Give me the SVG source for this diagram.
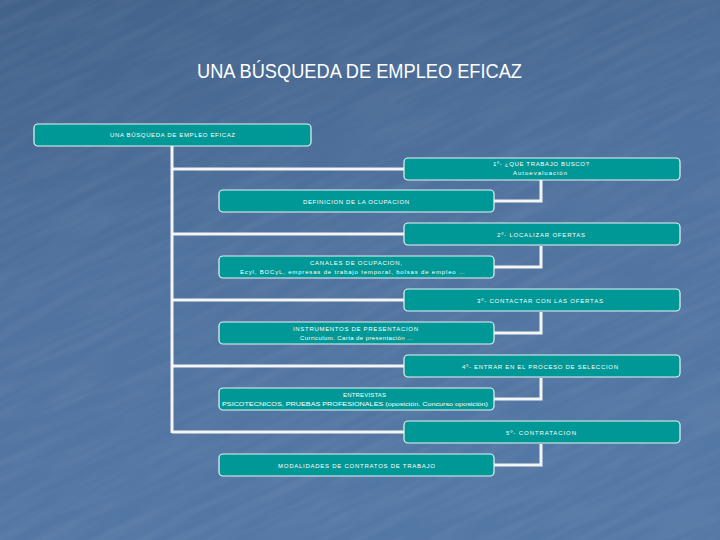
<svg xmlns="http://www.w3.org/2000/svg" width="720" height="540" viewBox="0 0 720 540">
<defs>
<linearGradient id="bg" x1="0" y1="0" x2="0.3" y2="1">
<stop offset="0" stop-color="#43628a"/>
<stop offset="0.5" stop-color="#4f729e"/>
<stop offset="1" stop-color="#5478a5"/>
</linearGradient>
<filter id="tex" x="0" y="0" width="100%" height="100%">
<feTurbulence type="fractalNoise" baseFrequency="0.012 0.12" numOctaves="3" seed="4" result="n"/>
<feColorMatrix in="n" type="matrix" values="0 0 0 0 1  0 0 0 0 1  0 0 0 0 1  0 0 0 0.35 -0.12"/>
</filter>
<style>
.box{fill:#009896;stroke:#e8f4f4;stroke-width:1.2}
.conn{fill:none;stroke:#f4f4f4;stroke-width:3}
.t{font-family:"Liberation Sans",Arial,sans-serif;font-size:6px;fill:#ffffff;text-anchor:middle}
.s{font-size:5.6px}
.title{font-family:"Liberation Sans",Arial,sans-serif;font-size:21px;fill:#ffffff;text-anchor:middle}
</style>
</defs>
<rect width="720" height="540" fill="url(#bg)"/>
<rect x="-200" y="-200" width="1120" height="940" filter="url(#tex)" transform="rotate(-25 360 270)" opacity="0.3"/>
<text class="title" x="359.5" y="78" textLength="325" lengthAdjust="spacingAndGlyphs">UNA BÚSQUEDA DE EMPLEO EFICAZ</text>

<g id="connectors">
<path class="conn" d="M172,146 V433"/>
<path class="conn" d="M172,169 H404 M172,234 H404 M172,300 H404 M172,366 H404 M172,432 H404"/>
<path class="conn" d="M541,180 V201 H494 M541,246 V267 H494 M541,312 V333 H494 M541,378 V399 H494 M541,444 V465 H494"/>
</g>

<g id="root">
<rect class="box" x="34" y="124" width="277" height="22" rx="4"/>
<text class="t" x="172.5" y="137" textLength="125" lengthAdjust="spacing">UNA BÚSQUEDA DE EMPLEO EFICAZ</text>
</g>
<g id="step1">
<rect class="box" x="404" y="158" width="276" height="22" rx="4"/>
<text class="t" x="541" y="166" textLength="96" lengthAdjust="spacing">1º- ¿QUE TRABAJO BUSCO?</text>
<text class="t" x="540" y="175" textLength="54" lengthAdjust="spacing">Autoevaluación</text>
</g>
<g id="def">
<rect class="box" x="219" y="190" width="275" height="22" rx="4"/>
<text class="t" x="356" y="203.5" textLength="106" lengthAdjust="spacing">DEFINICION DE LA OCUPACION</text>
</g>
<g id="step2">
<rect class="box" x="404" y="223" width="276" height="22" rx="4"/>
<text class="t" x="541" y="236.5" textLength="88" lengthAdjust="spacing">2º- LOCALIZAR OFERTAS</text>
</g>
<g id="canales">
<rect class="box" x="219" y="256" width="275" height="22" rx="4"/>
<text class="t" x="356" y="265" textLength="92" lengthAdjust="spacing">CANALES DE OCUPACION,</text>
<text class="t" x="352.5" y="274" textLength="225" lengthAdjust="spacing">Ecyl, BOCyL, empresas de trabajo temporal, bolsas de empleo …</text>
</g>
<g id="step3">
<rect class="box" x="404" y="289" width="276" height="22" rx="4"/>
<text class="t" x="540" y="302.5" textLength="126" lengthAdjust="spacing">3º- CONTACTAR CON LAS OFERTAS</text>
</g>
<g id="instrumentos">
<rect class="box" x="219" y="322" width="275" height="22" rx="4"/>
<text class="t" x="355.5" y="331" textLength="125" lengthAdjust="spacing">INSTRUMENTOS DE PRESENTACION</text>
<text class="t" x="356.5" y="340" textLength="113" lengthAdjust="spacing">Curriculum. Carta de presentación …</text>
</g>
<g id="step4">
<rect class="box" x="404" y="355" width="276" height="22" rx="4"/>
<text class="t" x="540" y="368.5" textLength="156" lengthAdjust="spacing">4º- ENTRAR EN EL PROCESO DE SELECCION</text>
</g>
<g id="entrevistas">
<rect class="box" x="219" y="388" width="275" height="22" rx="4"/>
<text class="t" x="364.5" y="397" textLength="43" lengthAdjust="spacing">ENTREVISTAS</text>
<text class="t s" x="355" y="406" textLength="266" lengthAdjust="spacingAndGlyphs">PSICOTECNICOS, PRUEBAS PROFESIONALES (oposición. Concurso oposición)</text>
</g>
<g id="step5">
<rect class="box" x="404" y="421" width="276" height="22" rx="4"/>
<text class="t" x="541" y="434.5" textLength="70" lengthAdjust="spacing">5º- CONTRATACION</text>
</g>
<g id="modalidades">
<rect class="box" x="219" y="454" width="275" height="22" rx="4"/>
<text class="t" x="356.5" y="467.5" textLength="157" lengthAdjust="spacing">MODALIDADES DE CONTRATOS DE TRABAJO</text>
</g>
</svg>
